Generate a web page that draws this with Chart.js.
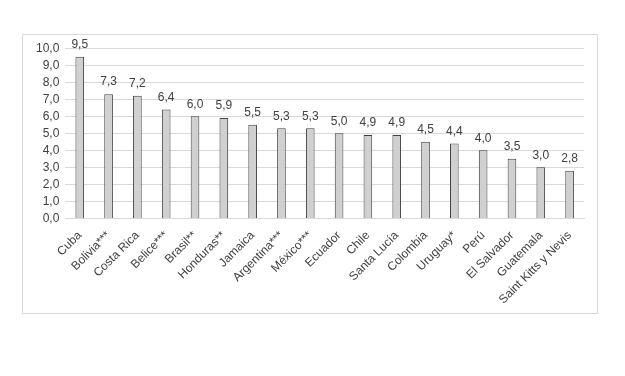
<!DOCTYPE html>
<html>
<head>
<meta charset="utf-8">
<script src="https://cdn.jsdelivr.net/npm/chart.js"></script>
<style>
  body { margin: 0; background: #fff; width: 625px; height: 376px; position: relative; }
  #box { position: absolute; left: 22px; top: 34px; width: 574px; height: 278px; border: 1px solid #d9d9d9; }
  #box canvas { position: absolute; left: 0; top: 0; }
</style>
</head>
<body>
<div id="box"><canvas id="myChart" width="574" height="278"></canvas></div>
<script>
// valores por país
let countries = ['Cuba', 'Bolivia***', 'Costa Rica', 'Belice***', 'Brasil**', 'Honduras**', 'Jamaica',
    'Argentina***', 'México***', 'Ecuador', 'Chile', 'Santa Lucía', 'Colombia', 'Uruguay*', 'Perú',
    'El Salvador', 'Guatemala', 'Saint Kitts y Nevis'];
let values = [9.5, 7.3, 7.2, 6.4, 6.0, 5.9, 5.5, 5.3, 5.3, 5.0, 4.9, 4.9, 4.5, 4.4, 4.0, 3.5, 3.0, 2.8];
let yTicks = [0, 1, 2, 3, 4, 5, 6, 7, 8, 9, 10];

function fmt(v) {
    return v.toFixed(1).replace('.', ',');
}

// draws the numbers over the bars
let valueLabels = {
    id: 'valueLabels',
    afterDatasetsDraw(chart) {
        let ctx = chart.ctx;
        let meta = chart.getDatasetMeta(0);
        ctx.save();
        ctx.font = '12px "Liberation Sans", Arial, sans-serif';
        ctx.fillStyle = '#404040';
        ctx.textAlign = 'center';
        ctx.textBaseline = 'bottom';
        meta.data.forEach((bar, i) => {
            ctx.fillText(fmt(values[i]), bar.x, bar.y - 6);
        });
        ctx.restore();
    }
};

let chartCtx = document.querySelector('#myChart').getContext('2d');

let barChart = new Chart(chartCtx, {
    type: 'bar',
    data: {
        labels: countries,
        datasets: [{
            data: values,
            backgroundColor: '#d0d0d0',
            borderColor: '#404040',
            borderWidth: 1,
            barPercentage: 0.3,
            categoryPercentage: 1.0
        }]
    },
    options: {
        responsive: false,
        animation: false,
        layout: { padding: { left: 7, right: 13, top: 13, bottom: 4 } },
        plugins: {
            legend: { display: false },
            tooltip: { enabled: false }
        },
        scales: {
            x: {
                grid: { display: false },
                border: { color: '#d9d9d9' },
                ticks: {
                    color: '#404040',
                    font: { size: 12, family: '"Liberation Sans", Arial, sans-serif' },
                    minRotation: 45,
                    maxRotation: 45,
                    autoSkip: false,
                    padding: 2
                }
            },
            y: {
                min: 0,
                max: 10,
                afterBuildTicks: (axis) => { axis.ticks = yTicks.map(v => ({ value: v })); },
                grid: { color: '#d9d9d9', drawTicks: false },
                border: { display: false },
                ticks: {
                    color: '#404040',
                    font: { size: 12, family: '"Liberation Sans", Arial, sans-serif' },
                    padding: 6,
                    autoSkip: false,
                    callback: (v) => fmt(v)
                }
            }
        }
    },
    plugins: [valueLabels]
});
</script>
</body>
</html>
